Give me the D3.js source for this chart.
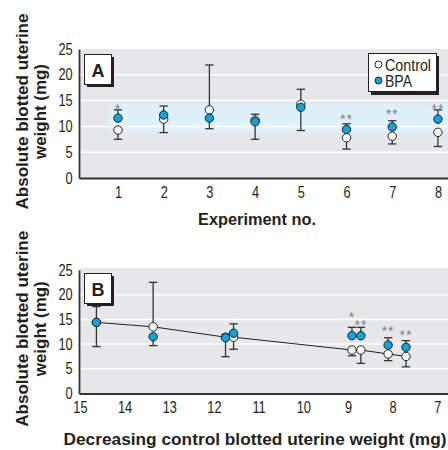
<!DOCTYPE html>
<html>
<head>
<meta charset="utf-8">
<script src="https://cdn.jsdelivr.net/npm/d3@7"></script>
<style>
  body { margin: 0; background: #fff; }
</style>
</head>
<body>
<script>
// panel A: experiments 1-8
const experiments = [1, 2, 3, 4, 5, 6, 7, 8]
const aControl = [9.3, 11.4, 13.2, 11.2, 14.3, 7.8, 8.1, 8.85]
const aBpa = [11.6, 12.2, 11.6, 10.9, 13.7, 9.4, 9.9, 11.4]
// end of the error bar drawn for each mean (up or down)
const aControlBar = [7.5, 8.8, 21.9, 7.5, 17.2, 5.6, 6.6, 6.1]
const aBpaBar = [13.2, 13.95, 9.55, 12.35, 9.2, 10.5, 11.1, 13.2]
const aStars = ['*', '', '', '', '', '**', '**', '**']
const aStarAt = [13.95, null, null, null, null, 12.0, 12.85, 13.95]
const band = [8.85, 14.4]

// panel B: same experiments ordered by control weight
const bWeight = [14.63, 13.36, 11.74, 11.56, 8.91, 8.71, 8.10, 7.70]
const bControl = [14.4, 13.5, 11.4, 11.4, 8.8, 8.8, 8.0, 7.5]
const bBpa = [14.4, 11.5, 11.3, 12.2, 11.7, 11.7, 9.8, 9.35]
const bControlBar = [17.6, 22.5, 7.45, 8.95, 7.65, 6.1, 6.65, 5.4]
const bBpaBar = [9.5, 9.7, 12.0, 14.1, 13.4, 13.4, 11.3, 10.7]
const bStars = ['', '', '', '', '*', '**', '**', '**']
const bStarAt = [null, null, null, null, 15.9, 14.3, 13.1, 12.3]

const yTicks = [0, 5, 10, 15, 20, 25]
const bTicks = [15, 14, 13, 12, 11, 10, 9, 8, 7]

const FONT = '"Liberation Sans", Arial, sans-serif'
const BLUE = '#12a3dd'
const BG = '#e6e7e8'
const DARK = '#231f20'

const svg = d3.select('body').append('svg')
  .attr('width', 448)
  .attr('height', 450)
  .style('font-family', FONT)

function drawPanel(p) {
  const g = svg.append('g')
  const x = p.x, y = p.y

  // plot background
  g.append('rect')
    .attr('x', 79).attr('y', p.top)
    .attr('width', 448 - 79).attr('height', y(0) - p.top)
    .attr('fill', BG)

  if (p.band) {
    g.append('rect')
      .attr('x', x(0.8)).attr('y', y(p.band[1]))
      .attr('width', 448 - x(0.8)).attr('height', y(p.band[0]) - y(p.band[1]))
      .attr('fill', '#ddf1fa')
  }

  // white gridlines
  g.selectAll('line.grid')
    .data([5, 10, 15, 20])
    .enter().append('line')
    .attr('class', 'grid')
    .attr('x1', 79).attr('x2', 448)
    .attr('y1', d => y(d)).attr('y2', d => y(d))
    .attr('stroke', '#fff')
    .attr('stroke-width', 1.5)

  // axes
  g.append('g')
    .attr('transform', 'translate(79,0)')
    .call(d3.axisLeft(y).tickValues(yTicks).tickSize(0).tickSizeOuter(0).tickPadding(8))
  g.append('g')
    .attr('transform', 'translate(0,' + y(0) + ')')
    .call(d3.axisBottom(x).tickValues(p.ticks).tickSize(0).tickSizeOuter(0).tickPadding(p.pad)
      .tickFormat(d3.format('d')))
  g.selectAll('.domain')
    .attr('stroke', '#333')
    .attr('stroke-width', 1.8)
  // condensed look for the tick numbers
  g.selectAll('.tick text')
    .style('font-family', FONT)
    .style('font-size', '16px')
    .attr('fill', DARK)
    .attr('transform', 'scale(0.8,1)')

  // line through control means (panel B)
  if (p.line) {
    const pts = p.xs.map((d, i) => [d, p.ctrl[i]])
    g.append('path')
      .attr('d', d3.line().x(d => x(d[0])).y(d => y(d[1]))(pts))
      .attr('fill', 'none')
      .attr('stroke', DARK)
      .attr('stroke-width', 1)
  }

  // error bars
  const bars = []
  p.xs.forEach((d, i) => {
    bars.push({ x: d, from: p.ctrl[i], to: p.ctrlBar[i] })
    bars.push({ x: d, from: p.bpa[i], to: p.bpaBar[i] })
  })
  const eb = g.selectAll('g.err').data(bars).enter().append('g')
    .attr('stroke', '#333').attr('stroke-width', 1.3)
  eb.append('line')
    .attr('x1', d => x(d.x)).attr('x2', d => x(d.x))
    .attr('y1', d => y(d.from)).attr('y2', d => y(d.to))
  eb.append('line')
    .attr('x1', d => x(d.x) - 4.2).attr('x2', d => x(d.x) + 4.2)
    .attr('y1', d => y(d.to)).attr('y2', d => y(d.to))

  // control then BPA points
  g.selectAll('circle.ctrl').data(p.xs).enter().append('circle')
    .attr('cx', d => x(d)).attr('cy', (d, i) => y(p.ctrl[i]))
    .attr('r', 4.2)
    .attr('fill', '#fff').attr('stroke', DARK).attr('stroke-width', 1)
  g.selectAll('circle.bpa').data(p.xs).enter().append('circle')
    .attr('cx', d => x(d)).attr('cy', (d, i) => y(p.bpa[i]))
    .attr('r', 4.2)
    .attr('fill', BLUE).attr('stroke', DARK).attr('stroke-width', 1)

  // significance stars
  const starData = p.xs.map((d, i) => ({ x: d, s: p.stars[i], at: p.starAt[i] }))
    .filter(d => d.s !== '')
  g.selectAll('text.star').data(starData).enter()
    .append('text')
    .attr('x', d => x(d.x))
    .attr('y', d => y(d.at) + 7.5)
    .attr('text-anchor', 'middle')
    .style('font-size', '14px')
    .style('letter-spacing', '1px')
    .attr('fill', '#808080')
    .text(d => d.s)

  // panel letter box
  g.append('rect')
    .attr('x', 87).attr('y', p.top + 8).attr('width', 27).attr('height', 30)
    .attr('fill', DARK)
  g.append('rect')
    .attr('x', 84.5).attr('y', p.top + 5.5).attr('width', 27).attr('height', 30)
    .attr('fill', '#fff').attr('stroke', DARK).attr('stroke-width', 1)
  g.append('text')
    .attr('x', 98).attr('y', p.top + 28)
    .attr('text-anchor', 'middle')
    .style('font-size', '18px').style('font-weight', 'bold')
    .attr('fill', DARK)
    .text(p.letter)

  // y title, two lines
  const cy = (p.top + y(0)) / 2 - 2
  const yt = g.append('text')
    .attr('transform', 'translate(0,' + cy + ') rotate(-90)')
    .attr('text-anchor', 'middle')
    .style('font-size', '17px').style('font-weight', 'bold')
    .attr('fill', DARK)
  yt.append('tspan').attr('x', 0).attr('y', 28)
    .attr('textLength', 196).attr('lengthAdjust', 'spacingAndGlyphs')
    .text('Absolute blotted uterine')
  yt.append('tspan').attr('x', 0).attr('y', 46)
    .attr('textLength', 95).attr('lengthAdjust', 'spacingAndGlyphs')
    .text('weight (mg)')

  // x title
  g.append('text')
    .attr('x', p.titleX).attr('y', p.titleY)
    .attr('text-anchor', 'middle')
    .attr('textLength', p.titleLen).attr('lengthAdjust', 'spacingAndGlyphs')
    .style('font-size', '17px').style('font-weight', 'bold')
    .attr('fill', DARK)
    .text(p.title)
}

drawPanel({
  letter: 'A',
  top: 49,
  x: d3.scaleLinear().domain([0.147, 8.22]).range([79, 448]),
  y: d3.scaleLinear().domain([0, 25]).range([178, 49]),
  ticks: experiments,
  pad: 9,
  band: band,
  xs: experiments,
  ctrl: aControl, bpa: aBpa, ctrlBar: aControlBar, bpaBar: aBpaBar,
  stars: aStars, starAt: aStarAt,
  title: 'Experiment no.', titleX: 257, titleY: 225, titleLen: 118
})

drawPanel({
  letter: 'B',
  top: 268,
  x: d3.scaleLinear().domain([15.02, 6.76]).range([79, 448]),
  y: d3.scaleLinear().domain([0, 25]).range([393.5, 270]),
  ticks: bTicks,
  pad: 8,
  line: true,
  xs: bWeight,
  ctrl: bControl, bpa: bBpa, ctrlBar: bControlBar, bpaBar: bBpaBar,
  stars: bStars, starAt: bStarAt,
  title: 'Decreasing control blotted uterine weight (mg)', titleX: 255, titleY: 445, titleLen: 383
})

// legend in panel A
const legend = svg.append('g')
legend.append('rect')
  .attr('x', 371).attr('y', 56).attr('width', 68).attr('height', 39)
  .attr('fill', DARK)
legend.append('rect')
  .attr('x', 368.5).attr('y', 53.5).attr('width', 68).attr('height', 38)
  .attr('fill', '#fff').attr('stroke', DARK).attr('stroke-width', 1)
const legendItems = [['Control', '#fff', 46], ['BPA', BLUE, 27]]
legendItems.forEach((d, i) => {
  legend.append('circle')
    .attr('cx', 378.5).attr('cy', 64.5 + i * 16)
    .attr('r', 3.5)
    .attr('fill', d[1]).attr('stroke', DARK).attr('stroke-width', 1)
  legend.append('text')
    .attr('x', 385).attr('y', 71 + i * 16)
    .attr('textLength', d[2]).attr('lengthAdjust', 'spacingAndGlyphs')
    .style('font-size', '16px')
    .attr('fill', DARK)
    .text(d[0])
})
</script>
</body>
</html>
